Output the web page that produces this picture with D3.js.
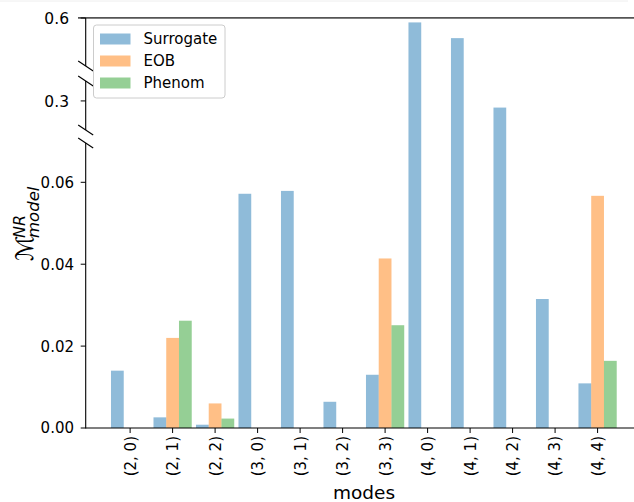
<!DOCTYPE html>
<html><head><meta charset="utf-8">
<script src="https://cdn.jsdelivr.net/npm/d3@7"></script>
<style>body{margin:0;background:#fff}svg{display:block}text{font-family:"DejaVu Sans",sans-serif;fill:#000}</style>
</head><body><svg id="c" width="634" height="502"></svg>
<script>
const modes = ["(2, 0)","(2, 1)","(2, 2)","(3, 0)","(3, 1)","(3, 2)","(3, 3)","(4, 0)","(4, 1)","(4, 2)","(4, 3)","(4, 4)"];
const surrogate = [0.0140,0.0026,0.0008,0.0572,0.0579,0.0064,0.0130,0.584,0.527,0.276,0.0315,0.0109];
const eob       = [0,0.0220,0.0060,0,0,0,0.0414,0,0,0,0,0.0567];
const phenom    = [0,0.0262,0.0023,0,0,0,0.0251,0,0,0,0,0.0164];
const seriesNames = ["Surrogate","EOB","Phenom"];
const seriesColors = ["#1f77b4","#ff7f0e","#2ca02c"];
const yTicksLow = [0,0.02,0.04,0.06];
const yTicksHigh = [0.3,0.6];
// broken axis segments: [domain lo, hi]
const segDomains = [[0,0.0696],[0.195,0.372],[0.426,0.6]];
const segRanges  = [[428,143],[130,81],[66,18]];

const svg = d3.select("#c");
const x = d3.scaleLinear().domain([-1.045, 12.045]).range([85.7, 642]);
const y = d3.scaleLinear()
  .domain(segDomains.flat())
  .range(segRanges.flat());
const step = x(1)-x(0), bw = 0.3*step;
const L = 85.7;

// faint top border
svg.append("line").attr("x1",0).attr("x2",628).attr("y1",1).attr("y2",1).attr("stroke","#eee");

const all = [surrogate, eob, phenom];
all.forEach((vals,si)=>{
  svg.append("g").selectAll("rect").data(vals.map((v,i)=>({v,i}))).join("rect")
    .filter(d=>d.v>0)
    .attr("x",d=>x(d.i+(si-1)*0.3)-bw/2)
    .attr("width",bw)
    .attr("y",d=>y(d.v))
    .attr("height",d=>y(0)-y(d.v))
    .attr("fill",seriesColors[si]).attr("fill-opacity",0.5);
});

// top spine
svg.append("line").attr("x1",78).attr("x2",634).attr("y1",17.8).attr("y2",17.8).attr("stroke","#555").attr("stroke-width",1.8);
// bottom spine
svg.append("line").attr("x1",L).attr("x2",634).attr("y1",428).attr("y2",428).attr("stroke","#000").attr("stroke-width",1.1);

// left axis segments
segRanges.forEach(r=>{
  svg.append("line").attr("x1",L).attr("x2",L).attr("y1",r[0]+(r[0]===428?0.5:0)).attr("y2",r[1]).attr("stroke","#000").attr("stroke-width",1.1);
});
// break marks
[segRanges[0][1],segRanges[1][0],segRanges[1][1],segRanges[2][0]].forEach(yy=>{
  svg.append("line").attr("x1",L-7.5).attr("x2",L+7.5).attr("y1",yy-5).attr("y2",yy+5).attr("stroke","#000").attr("stroke-width",1.1);
});

// y ticks
const yt = svg.append("g");
yTicksLow.forEach(t=>{
  yt.append("line").attr("x1",L-5).attr("x2",L).attr("y1",y(t)).attr("y2",y(t)).attr("stroke","#000");
  yt.append("text").attr("x",74).attr("y",y(t)).attr("dy","0.36em").attr("text-anchor","end").attr("font-size",15).text(d3.format(".2f")(t));
});
yTicksHigh.forEach(t=>{
  yt.append("line").attr("x1",L-5).attr("x2",L).attr("y1",y(t)).attr("y2",y(t)).attr("stroke","#000");
  yt.append("text").attr("x",69).attr("y",y(t)).attr("dy","0.36em").attr("text-anchor","end").attr("font-size",15.5).text(d3.format(".1f")(t));
});

// x ticks
const xt = svg.append("g");
modes.forEach((m,i)=>{
  xt.append("line").attr("x1",x(i)).attr("x2",x(i)).attr("y1",428).attr("y2",433).attr("stroke","#000");
  xt.append("text").attr("transform",`translate(${x(i)},436) rotate(-90)`).attr("dy","0.36em").attr("text-anchor","end").attr("font-size",15).text(m);
});
svg.append("text").attr("x",364).attr("y",499).attr("text-anchor","middle").attr("font-size",18.5).text("modes");

// y label
const yl = svg.append("g").attr("transform","translate(33,261) rotate(-90)");
yl.append("text").attr("x",0).attr("y",0).attr("font-size",24).text("ℳ");
yl.append("text").attr("x",23).attr("y",-8).attr("font-size",16).attr("font-style","italic").text("NR");
yl.append("text").attr("x",23).attr("y",6).attr("font-size",16.5).attr("font-style","italic").text("model");

// legend
const lg = svg.append("g");
lg.append("rect").attr("x",93.5).attr("y",25).attr("width",131.5).attr("height",73).attr("rx",3)
  .attr("fill","#fff").attr("fill-opacity",0.8).attr("stroke","#ccc");
seriesNames.forEach((n,i)=>{
  const cy = 39 + i*22;
  lg.append("rect").attr("x",100).attr("y",cy-5.5).attr("width",30.5).attr("height",11).attr("fill",seriesColors[i]).attr("fill-opacity",0.5);
  lg.append("text").attr("x",143.5).attr("y",cy).attr("dy","0.36em").attr("font-size",15).text(n);
});
</script></body></html>
